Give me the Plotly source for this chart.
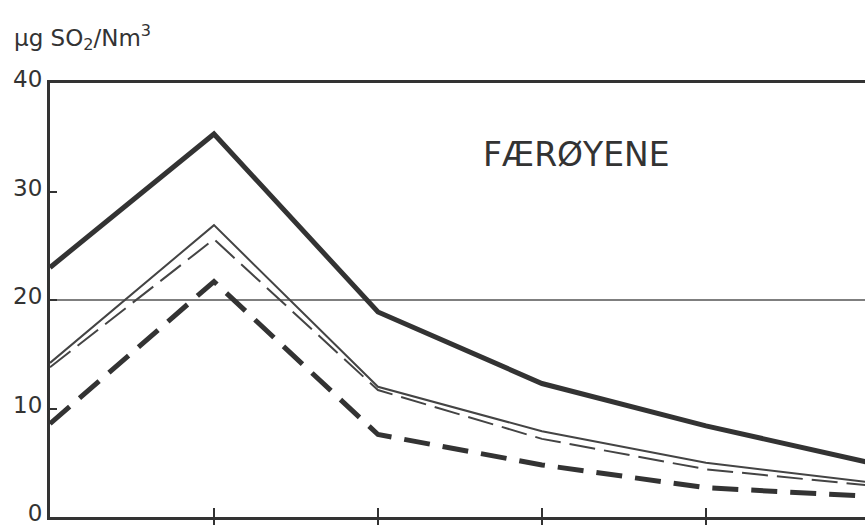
import plotly.graph_objects as go

# Sampling positions along the horizontal axis (evenly spaced, unlabelled)
periods = [0, 1, 2, 3, 4, 5]

# SO2 concentration curves, µg SO2/Nm3
heavy_solid = [23.0, 35.3, 18.9, 12.3, 8.4, 5.0]
thin_solid = [14.2, 26.9, 12.0, 7.9, 5.0, 3.2]
thin_dashed = [13.8, 25.6, 11.7, 7.2, 4.4, 2.9]
heavy_dashed = [8.6, 21.7, 7.6, 4.8, 2.7, 1.9]

y_ticks = [0, 10, 20, 30, 40]

ink = "#333333"
font_family = "DejaVu Sans"

fig = go.Figure()

series = [
    (heavy_solid, 5, "solid", ink),
    (thin_solid, 2, "solid", "#444444"),
    (thin_dashed, 2, "26px,9px", "#444444"),
    (heavy_dashed, 5, "26px,13px", ink),
]
for values, width, dash, color in series:
    fig.add_trace(go.Scatter(
        x=periods, y=values, mode="lines",
        line=dict(color=color, width=width, dash=dash),
        showlegend=False, hoverinfo="skip",
    ))

# Reference line at 20 µg
fig.add_shape(type="line", xref="paper", yref="y", x0=0, x1=1, y0=20, y1=20,
              line=dict(color="#555555", width=1.5), layer="below")

fig.update_layout(
    width=865, height=525,
    margin=dict(l=50, r=0, t=83, b=8, autoexpand=False),
    paper_bgcolor="white", plot_bgcolor="white",
    font=dict(family=font_family, color=ink),
    xaxis=dict(
        range=[0, 4.97], tickvals=periods[1:], showticklabels=False,
        ticks="outside", ticklen=8, tickwidth=2, tickcolor=ink,
        showline=True, linecolor=ink, linewidth=3, mirror=True,
        showgrid=False, zeroline=False, automargin=False,
    ),
    xaxis2=dict(
        range=[0, 4.97], tickvals=periods[1:], showticklabels=False,
        ticks="inside", ticklen=9, tickwidth=2, tickcolor=ink,
        overlaying="x", side="bottom", showline=False,
        showgrid=False, zeroline=False, matches="x", automargin=False,
    ),
    yaxis=dict(
        range=[0, 40], tickvals=y_ticks, ticktext=[str(v) for v in y_ticks],
        ticks="inside", ticklen=7, tickwidth=2, tickcolor=ink,
        tickfont=dict(size=23, color=ink, family=font_family),
        ticklabeloverflow="allow", ticklabelshift=-4, automargin=False,
        showline=True, linecolor=ink, linewidth=3,
        showgrid=False, zeroline=False,
    ),
)

# A dummy trace on the overlaid axis so its inward ticks are drawn
fig.add_trace(go.Scatter(x=[periods[0]], y=[0], xaxis="x2", mode="markers",
                         marker=dict(opacity=0), showlegend=False, hoverinfo="skip"))

fig.add_annotation(
    text="µg SO<sub>2</sub>/Nm<sup>3</sup>", xref="paper", yref="paper",
    x=-38 / 815, y=1.0, xanchor="left", yanchor="middle", yshift=46,
    showarrow=False, font=dict(size=23, color=ink, family=font_family),
)
fig.add_annotation(
    text="FÆRØYENE", xref="paper", yref="y",
    x=(576 - 50) / 815, y=33.4, xanchor="center", yanchor="middle",
    showarrow=False, font=dict(size=33, color=ink, family=font_family),
)

fig.write_html("out.html")
